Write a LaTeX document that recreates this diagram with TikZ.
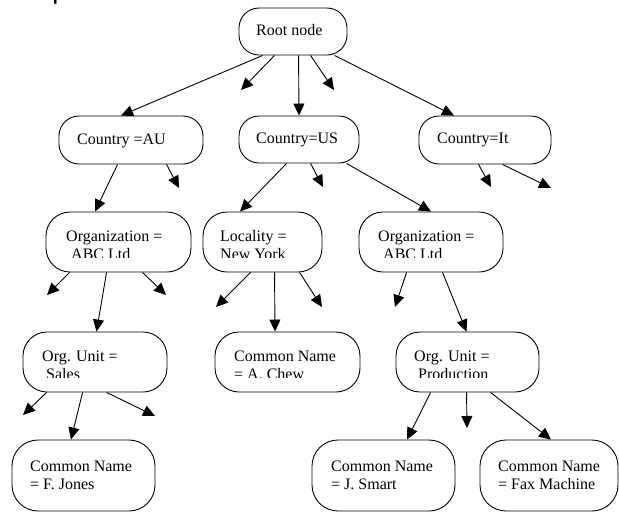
\documentclass[tikz,border=0pt]{standalone}
\usepackage{fontspec}
\setmainfont{Liberation Serif}
\newfontfamily\titlefont{Lato}
\usetikzlibrary{arrows.meta}

\begin{document}
\begin{tikzpicture}[x=1pt,y=-1pt,
  box/.style={draw, line width=0.9pt, rounded corners=#1, inner sep=0pt},
  box/.default=20pt,
  lbl/.style={anchor=base west, inner sep=0pt, font=\fontsize{16}{18}\selectfont},
  arr/.style={line width=0.9pt, -{Triangle[length=12pt,width=11pt]}},
]
\useasboundingbox (0,0) rectangle (619,512);

% slide heading, mostly outside the page
\begin{scope}
  \clip (0,0) rectangle (619,512);
  \node[anchor=base west, inner sep=0pt, font=\titlefont\fontsize{28}{30}\selectfont]
    (heading) at (52,-0.5) {\llap{Exam}ple};
\end{scope}

% ---- boxes ----
\node[box, minimum width=108pt, minimum height=47pt] (root)  at (293,31.5)  {};
\node[box, minimum width=144pt, minimum height=48pt] (au)    at (131,140)   {};
\node[box, minimum width=120pt, minimum height=47pt] (us)    at (299,139.5) {};
\node[box, minimum width=132pt, minimum height=48pt] (it)    at (485,140)   {};
\node[box=24pt, minimum width=145pt, minimum height=60pt] (orgau) at (118.5,242) {};
\node[box=24pt, minimum width=119pt, minimum height=60pt] (loc)   at (262.5,242) {};
\node[box=24pt, minimum width=144pt, minimum height=60pt] (orgus) at (431,242)   {};
\node[box=24pt, minimum width=144pt, minimum height=60pt] (sales) at (95,362)    {};
\node[box=24pt, minimum width=145pt, minimum height=60pt] (chew)  at (287.5,362) {};
\node[box=24pt, minimum width=143pt, minimum height=60pt] (prod)  at (467.5,362) {};
\node[box=26pt, minimum width=143pt, minimum height=71pt] (jones) at (83.5,475.5)  {};
\node[box=26pt, minimum width=143pt, minimum height=71pt] (smart) at (383.5,475.5) {};
\node[box=26pt, minimum width=138pt, minimum height=71pt] (fax)   at (549,475.5)   {};

% ---- labels ----
\node[lbl] (root-t) at (256,35)  {Root node};
\node[lbl] (au-t)   at (77,144)  {Country =AU};
\node[lbl] (us-t)   at (256,143) {Country=US};
\node[lbl] (it-t)   at (437,143) {Country=It};

\node[lbl] (orgau-t) at (66,241)  {Organization =};
\node[lbl] (loc-t)   at (220,241) {Locality =};
\node[lbl] (orgus-t) at (378,241) {Organization =};
% second lines are cut short by the label area
\begin{scope}
  \clip (0,212) rectangle (619,257.5);
  \node[lbl] (orgau-u) at (71,259)  {ABC Ltd};
  \node[lbl] (loc-u)   at (220,259) {New York};
  \node[lbl] (orgus-u) at (383,259) {ABC Ltd};
\end{scope}

\node[lbl] (sales-t) at (42,361)  {Org. Unit =};
\node[lbl] (chew-t)  at (234,361) {Common Name};
\node[lbl] (prod-t)  at (414,361) {Org. Unit =};
\begin{scope}
  \clip (0,332) rectangle (619,377.6);
  \node[lbl] (sales-u) at (46,379.8)  {Sales};
  \node[lbl] (chew-u)  at (234,379.8) {= A. Chew};
  \node[lbl] (prod-u)  at (418,379.8) {Production};
\end{scope}

\node[lbl] (jones-t) at (30,471)  {Common Name};
\node[lbl] (jones-u) at (30,489)  {= F. Jones};
\node[lbl] (smart-t) at (331,471) {Common Name};
\node[lbl] (smart-u) at (331,489) {= J. Smart};
\node[lbl] (fax-t)   at (498,471) {Common Name};
\node[lbl] (fax-u)   at (498,489) {= Fax Machine};

% ---- loose arrow ends ----
\coordinate (d1)  at (241,90);
\coordinate (d2)  at (334,90);
\coordinate (d3)  at (179,188);
\coordinate (d4)  at (323,187);
\coordinate (d5)  at (491,187);
\coordinate (d6)  at (551,188);
\coordinate (d7)  at (47,295);
\coordinate (d8)  at (166,295);
\coordinate (d9)  at (216,307);
\coordinate (d10) at (322,307);
\coordinate (d11) at (395,307);
\coordinate (d12) at (23,415);
\coordinate (d13) at (155,416);
\coordinate (d14) at (467,428);

% ---- connectors ----
\draw[arr] ([xshift=24pt]root.south west) -- ([xshift=-10pt]au.north);
\draw[arr] ([xshift=36pt]root.south west) -- (d1);
\draw[arr] ([xshift=60pt]root.south west) -- (us.north);
\draw[arr] ([xshift=72pt]root.south west) -- (d2);
\draw[arr] ([xshift=96pt]root.south west) -- ([xshift=-31pt]it.north);

\draw[arr] ([xshift=59pt]au.south west) -- ([xshift=-23.5pt]orgau.north);
\draw[arr] ([xshift=108pt]au.south west) -- (d3);

\draw[arr] ([xshift=48pt]us.south west) -- ([xshift=-22.5pt]loc.north);
\draw[arr] ([xshift=72pt]us.south west) -- (d4);
\draw[arr] ([xshift=108pt]us.south west) -- (orgus.north);

\draw[arr] ([xshift=60pt]it.south west) -- (d5);
\draw[arr] ([xshift=84pt]it.south west) -- (d6);

\draw[arr] ([xshift=24pt]orgau.south west) -- (d7);
\draw[arr] ([xshift=61pt]orgau.south west) -- ([xshift=1.5pt]sales.north);
\draw[arr] ([xshift=97pt]orgau.south west) -- (d8);

\draw[arr] ([xshift=48pt]loc.south west) -- (d9);
\draw[arr] ([xshift=72pt]loc.south west) -- ([xshift=-12.5pt]chew.north);
\draw[arr] ([xshift=97pt]loc.south west) -- (d10);

\draw[arr] ([xshift=48pt]orgus.south west) -- (d11);
\draw[arr] ([xshift=84pt]orgus.south west) -- ([xshift=-1pt]prod.north);

\draw[arr] ([xshift=24pt]sales.south west) -- (d12);
\draw[arr] ([xshift=60pt]sales.south west) -- ([xshift=-12.5pt]jones.north);
\draw[arr] ([xshift=84pt]sales.south west) -- (d13);

\draw[arr] ([xshift=35pt]prod.south west) -- ([xshift=23.5pt]smart.north);
\draw[arr] ([xshift=71pt]prod.south west) -- (d14);
\draw[arr] ([xshift=95pt]prod.south west) -- ([xshift=2pt]fax.north);
\end{tikzpicture}
\end{document}
